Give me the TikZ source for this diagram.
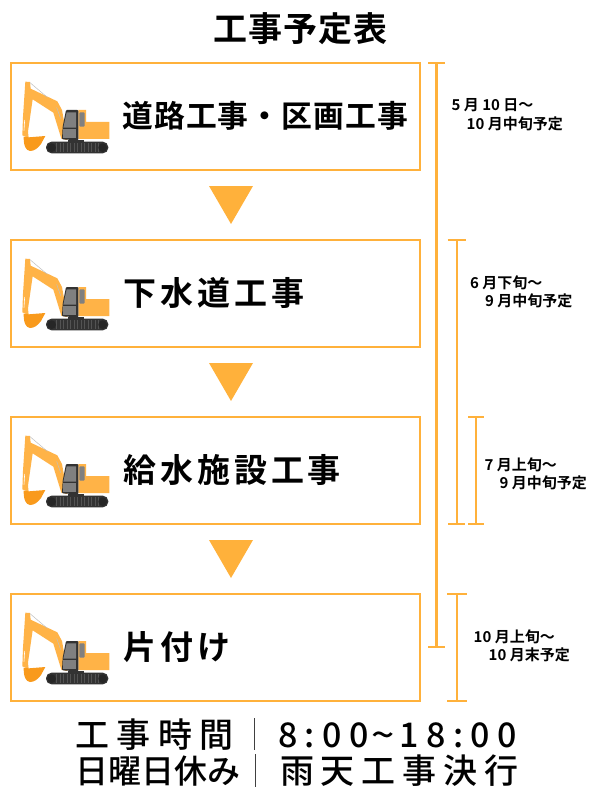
\documentclass[tikz,border=0pt]{standalone}
\usepackage{graphicx}
\usepackage{fontspec}
\setmainfont{Noto Sans CJK JP}
\newfontfamily\jb{Noto Sans CJK JP Bold}
\newfontfamily\jbB{Noto Sans CJK JP Bold}[LetterSpace=12]
\newfontfamily\jbC{Noto Sans CJK JP Bold}[LetterSpace=3]
\newfontfamily\jbD{Noto Sans CJK JP Bold}[LetterSpace=3.6]
\newfontfamily\jw{Noto Sans CJK JP Medium}[LetterSpace=22]
\newfontfamily\jd{Noto Sans CJK JP Medium}[LetterSpace=21.5]
\newfontfamily\jx{Noto Sans CJK JP Medium}[LetterSpace=20]
\newfontfamily\jn{Noto Sans CJK JP Medium}[LetterSpace=0]
\definecolor{org}{HTML}{FFB13B}
\definecolor{armc}{HTML}{FFB347}
\definecolor{bucket}{HTML}{F99A1C}
\definecolor{cabd}{HTML}{333333}
\definecolor{win}{HTML}{808080}
\tikzset{
  x=1pt,y=-1pt,
  box/.style={draw=org,line width=2pt,outer sep=0pt,fill=white,minimum width=409pt,minimum height=106.4pt,anchor=north west,inner sep=0pt},
  ttl/.style={anchor=west,inner sep=0pt},
  note/.style={anchor=west,align=left,inner sep=0pt,font=\jb\fontsize{15}{18.5}\selectfont},
  span/.style={org,line width=2.2pt},
  tri/.style={fill=org},
  foot/.style={anchor=west,inner sep=0pt},
  excav/.pic={
    \begin{scope}[scale=1/3]
    % boom and stick
    \fill[armc] (46,65) -- (60,66) -- (62,86) -- (142,124) -- (156,150) -- (172,240) -- (154,236) -- (130,158) -- (68,118) -- (54,215) -- (56,234) -- (37,226) -- (39,170) -- cycle;
    \draw[black!25,line width=.5pt] (60,68) -- (112,112);
    \draw[black!25,line width=.5pt] (140,142) -- (152,176);
    \draw[white,line width=.6pt] (44,180) -- (42,212);
    % bucket
    \fill[bucket] (41,230) -- (56,232) -- (106,228) -- (93,252) .. controls (83,266) and (72,273) .. (60,273) .. controls (47,271) and (41,258) .. (41,230) -- cycle;
    % rear body
    \fill[armc] (205,150) -- (228,150) -- (228,186) -- (298,186) -- (298,237) -- (205,237) -- cycle;
    \fill[win,rounded corners=1pt] (208,157) rectangle (224,200);
    % cab
    \fill[cabd,rounded corners=1pt] (168,150) -- (205,150) -- (205,241) -- (156,238) -- (158,200) -- cycle;
    \fill[win] (170,157) -- (198,157) -- (198,203) -- (160,203) -- cycle;
    \fill[win] (160,208) -- (198,208) -- (198,233) -- (160,233) -- cycle;
    % undercarriage
    \fill[cabd] (175,240) rectangle (222,250);
    \fill[cabd,rounded corners=5.5pt] (108,245) rectangle (295,280);
    \foreach \k in {0,...,12} \fill[win!65!black] ({138+\k*10.5},250) rectangle ++(3,25);
    \fill[black!85] (125,263) circle (13);
    \fill[black!85] (278,263) circle (13);
    \end{scope}
  }
}
\begin{document}
\begin{tikzpicture}
\useasboundingbox (0,0) rectangle (600,800);
\node[anchor=center,inner sep=0pt,font=\jbC\fontsize{34}{34}\selectfont] (title) at (300.5,29) {工事予定表};
\node[box] (b1) at (10.5,63.3) {};
\node[box] (b2) at (10.5,240.3) {};
\node[box] (b3) at (10.5,417.3) {};
\node[box] (b4) at (10.5,594.3) {};
\pic at (10,60) {excav};
\pic at (10,237) {excav};
\pic at (10,414) {excav};
\pic at (10,591) {excav};
\node[ttl,font=\jbD\fontsize{30.8}{32}\selectfont] (t1) at (122,116) {道路工事・区画工事};
\node[ttl,font=\jbB\fontsize{33}{33}\selectfont] (t2) at (123,293) {下水道工事};
\node[ttl,font=\jbB\fontsize{33}{33}\selectfont] (t3) at (123,470) {給水施設工事};
\node[ttl,font=\jbB\fontsize{33}{33}\selectfont] (t4) at (123,647) {片付け};
% triangles
\foreach \y in {186,363,540} \fill[tri] (209,\y) -- (253,\y) -- (231,{\y+38}) -- cycle;
% spans
\coordinate (s1a) at (436.5,63.3); \coordinate (s1b) at (436.5,647);
\coordinate (s2a) at (456.7,240.3); \coordinate (s2b) at (456.7,523.7);
\coordinate (s3a) at (476,417); \coordinate (s3b) at (476,523.7);
\coordinate (s4a) at (457,593.8); \coordinate (s4b) at (457,701.3);
\draw[span] (s1a) -- (s1b);
\draw[span] ([xshift=-8.5]s1a) -- ([xshift=8.5]s1a);
\draw[span] ([xshift=-8.5]s1b) -- ([xshift=8.5]s1b);
\draw[span] (s2a) -- (s2b);
\draw[span] ([xshift=-9]s2a) -- ([xshift=9]s2a);
\draw[span] ([xshift=-8.5]s2b) -- ([xshift=8.5]s2b);
\draw[span] (s3a) -- (s3b);
\draw[span] ([xshift=-8]s3a) -- ([xshift=8]s3a);
\draw[span] ([xshift=-8]s3b) -- ([xshift=8]s3b);
\draw[span] (s4a) -- (s4b);
\draw[span] ([xshift=-10]s4a) -- ([xshift=10]s4a);
\draw[span] ([xshift=-10]s4b) -- ([xshift=10]s4b);
% notes
\node[note] (n1) at (451.5,114.5) {5 月 10 日～\\\hspace*{15pt}10 月中旬予定};
\node[note] (n2) at (470,292) {6 月下旬～\\\hspace*{15pt}9 月中旬予定};
\node[note] (n3) at (484.5,474) {7 月上旬～\\\hspace*{15pt}9 月中旬予定};
\node[note] (n4) at (473.5,646) {10 月上旬～\\\hspace*{15pt}10 月末予定};
% footer
\node[foot,font=\jw\fontsize{34}{34}\selectfont] (f1) at (75,735) {工事時間};
\draw[black!75,line width=1.2pt] (254.5,718) -- (254.5,750);
\node[foot,font=\jd\fontsize{34}{34}\selectfont] (f2) at (278,735) {8:00\kern3pt\scalebox{1.2}[1]{\char`\~}\kern5pt 18:00};
\node[foot,font=\jn\fontsize{33}{33}\selectfont] (f3) at (75,771) {日曜日休み};
\draw[black!75,line width=1.2pt] (255.8,754) -- (255.8,787);
\node[foot,font=\jx\fontsize{34}{34}\selectfont] (f4) at (280,771) {雨天工事決行};
\end{tikzpicture}
\end{document}
